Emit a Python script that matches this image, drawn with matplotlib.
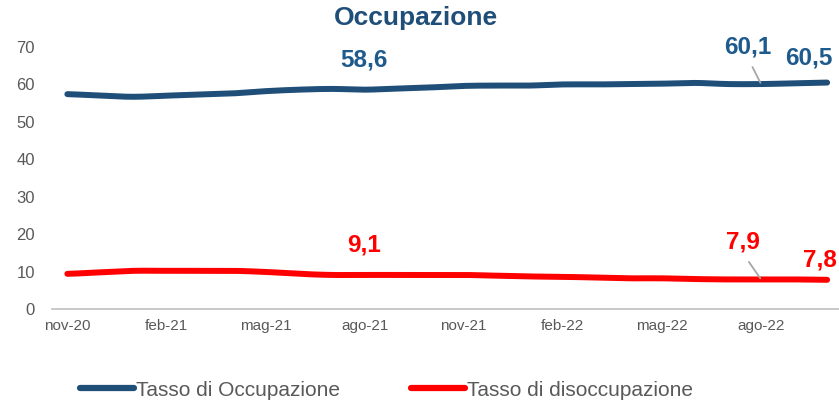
import numpy as np
import matplotlib
matplotlib.use('Agg')
import matplotlib.pyplot as plt
from matplotlib.lines import Line2D

plt.rcParams['font.family'] = ['Liberation Sans', 'DejaVu Sans']

months = ['nov-20', 'dic-20', 'gen-21', 'feb-21', 'mar-21', 'apr-21', 'mag-21', 'giu-21',
          'lug-21', 'ago-21', 'set-21', 'ott-21', 'nov-21', 'dic-21', 'gen-22', 'feb-22',
          'mar-22', 'apr-22', 'mag-22', 'giu-22', 'lug-22', 'ago-22', 'set-22', 'ott-22']
tick_labels = ['nov-20', 'feb-21', 'mag-21', 'ago-21', 'nov-21', 'feb-22', 'mag-22', 'ago-22']
occupazione = [57.4, 57.0, 56.7, 57.0, 57.3, 57.6, 58.2, 58.6, 58.8, 58.6, 58.9, 59.2,
               59.6, 59.7, 59.7, 60.0, 60.0, 60.1, 60.2, 60.4, 60.1, 60.1, 60.3, 60.5]
disoccupazione = [9.4, 9.8, 10.2, 10.2, 10.2, 10.2, 9.9, 9.4, 9.1, 9.1, 9.1, 9.1,
                  9.1, 8.9, 8.7, 8.6, 8.4, 8.2, 8.2, 8.0, 7.9, 7.9, 7.9, 7.8]
labelled_months = ['ago-21', 'ago-22', 'ott-22']
yticks = [0, 10, 20, 30, 40, 50, 60, 70]

BLUE = '#1F4E79'
BLUE_TXT = '#1F5A8C'
RED = '#FF0000'
GREY_TXT = '#595959'


def smooth(y, n=20):
    y = np.asarray(y, dtype=float)
    xs, ys = [], []
    m = len(y)
    for i in range(m - 1):
        p0 = y[max(i - 1, 0)]
        p1 = y[i]
        p2 = y[i + 1]
        p3 = y[min(i + 2, m - 1)]
        t = np.linspace(0, 1, n, endpoint=(i == m - 2))
        yy = 0.5 * (2 * p1 + (-p0 + p2) * t + (2 * p0 - 5 * p1 + 4 * p2 - p3) * t ** 2
                    + (-p0 + 3 * p1 - 3 * p2 + p3) * t ** 3)
        xs.append(i + t)
        ys.append(yy)
    return np.concatenate(xs), np.concatenate(ys)


fig = plt.figure(figsize=(8.39, 4.01), dpi=100)
ax = fig.add_axes([51.5 / 839, 92 / 401, (839 - 51.5) / 839, 262 / 401])

x = np.arange(len(months))
for series, col in [(occupazione, BLUE), (disoccupazione, RED)]:
    sx, sy = smooth(series)
    ax.plot(sx, sy, color=col, lw=4.3, solid_capstyle='round', solid_joinstyle='round')

ax.set_xlim(-0.48, 23.36)
ax.set_ylim(0, 70)
ax.set_yticks(yticks)
ax.set_yticklabels([str(v) for v in yticks])
ax.set_xticks([months.index(m) for m in tick_labels])
ax.set_xticklabels(tick_labels)
ax.tick_params(axis='y', length=0, pad=12, labelsize=12, labelcolor=GREY_TXT)
ax.tick_params(axis='x', length=0, pad=7, labelsize=11, labelcolor=GREY_TXT)
for s in ['top', 'right', 'left']:
    ax.spines[s].set_visible(False)
ax.spines['bottom'].set_color('#BFBFBF')
ax.spines['bottom'].set_linewidth(1.2)


def fmt(v):
    return f"{v:.1f}".replace('.', ',')


# label offsets in points (style only)
occ_offsets = {'ago-21': (-0.7, 21.4, False), 'ago-22': (-9.4, 27, True), 'ott-22': (-13, 18, False)}
dis_offsets = {'ago-21': (-0.7, 21.6, False), 'ago-22': (-13, 27, True), 'ott-22': (-5, 14.3, False)}

for series, offs, col in [(occupazione, occ_offsets, BLUE_TXT), (disoccupazione, dis_offsets, RED)]:
    for m in labelled_months:
        i = months.index(m)
        dx, dy, leader = offs[m]
        kw = {}
        if leader:
            kw['arrowprops'] = dict(arrowstyle='-', color='#A6A6A6', lw=1.3,
                                    shrinkA=5, shrinkB=1, relpos=(0.5, 0.0))
        ax.annotate(fmt(series[i]), xy=(i, series[i]), xytext=(dx, dy),
                    textcoords='offset points', ha='center', va='center',
                    fontsize=17.5, fontweight='bold', color=col, **kw)

fig.text(416 / 839, 1 - 18 / 401, 'Occupazione', ha='center', va='center',
         fontsize=19, fontweight='bold', color=BLUE)

handles = [Line2D([0], [0], color=BLUE, lw=4.5, solid_capstyle='round'),
           Line2D([0], [0], color=RED, lw=4.5, solid_capstyle='round')]
fig.legend(handles, ['Tasso di Occupazione', 'Tasso di disoccupazione'],
           loc='center', bbox_to_anchor=(0.461, 1 - 390 / 401), ncol=2, frameon=False,
           fontsize=15, labelcolor=GREY_TXT, handlelength=2.6, handletextpad=0.1,
           columnspacing=3.4)

fig.savefig('out.png', dpi=100)
